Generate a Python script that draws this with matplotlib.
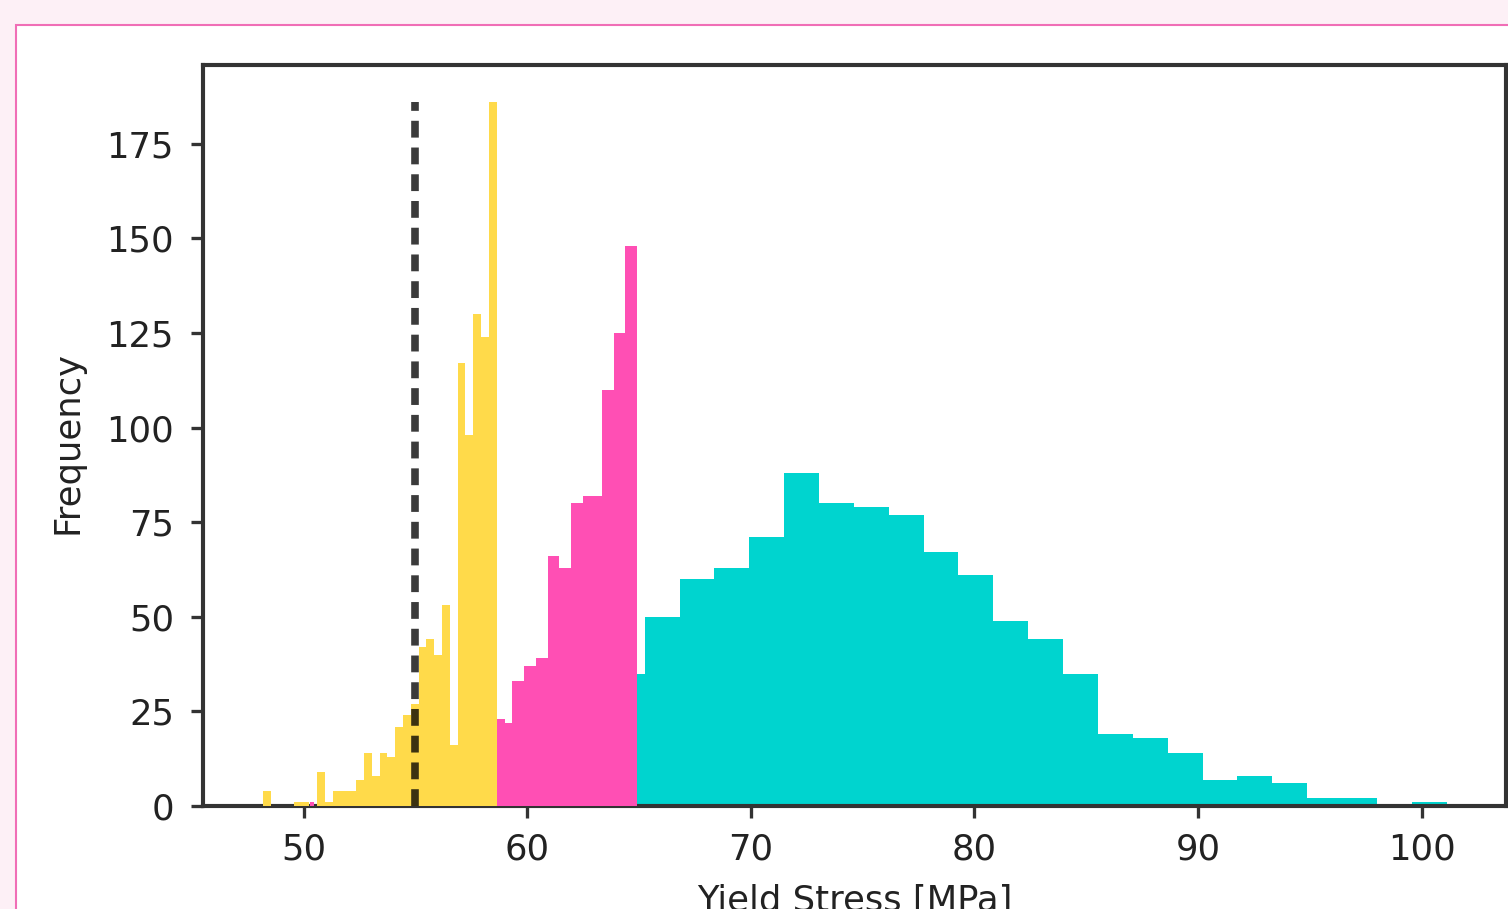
import matplotlib
matplotlib.use('Agg')
import matplotlib.pyplot as plt
import matplotlib.patches as mpatches
import numpy as np

# Histogram counts (three populations)
yellow_lo, yellow_hi = 48.17, 58.63
yellow_counts = [4, 0, 0, 0, 1, 1, 0, 9, 1, 4, 4, 4, 7, 14, 8, 14, 13, 21, 24, 27,
                 42, 44, 40, 53, 16, 117, 98, 130, 124, 186]

pink_edges = [50.27, 50.45, 58.63, 58.99, 59.30, 59.84, 60.38, 60.91, 61.40,
              61.94, 62.48, 63.33, 63.86, 64.36, 64.89]
pink_counts = [1, 0, 23, 22, 33, 37, 39, 66, 63, 80, 82, 110, 125, 148]

cyan_lo, cyan_hi = 63.69, 101.12
cyan_counts = [35, 50, 60, 63, 71, 88, 80, 79, 77, 67, 61, 49, 44, 35, 19, 18,
               14, 7, 8, 6, 2, 2, 0, 1]

threshold = 55.0

S = 2.376  # size scale (source rendered ~3.3 px per pt)
text_col = '#222222'
plt.rcParams.update({
    'font.family': 'DejaVu Sans',
    'font.size': 25.5,
    'axes.edgecolor': '#333333',
    'axes.linewidth': 1.25 * S,
    'xtick.major.size': 3.5 * S,
    'ytick.major.size': 3.5 * S,
    'xtick.major.width': 1.0 * S,
    'ytick.major.width': 1.0 * S,
    'xtick.major.pad': 10.5,
    'ytick.major.pad': 12.5,
    'xtick.color': '#333333',
    'ytick.color': '#333333',
    'xtick.labelcolor': text_col,
    'ytick.labelcolor': text_col,
    'axes.labelcolor': text_col,
})

W, H = 1508, 909
fig = plt.figure(figsize=(W / 100, H / 100), dpi=100, facecolor='#fdf0f6')

# card with pink border behind the chart
card = mpatches.Rectangle((16 / W, -0.2), 1.2, (H - 25) / H + 0.2,
                          transform=fig.transFigure, facecolor='white',
                          edgecolor='#f06eb6', linewidth=1.5, zorder=-1)
fig.patches.append(card)

ax = fig.add_axes([203 / W, (H - 806) / H, (1506 - 203) / W, (806 - 65) / H])
ax.set_facecolor('white')

cyan_edges = np.linspace(cyan_lo, cyan_hi, len(cyan_counts) + 1)
yellow_edges = np.linspace(yellow_lo, yellow_hi, len(yellow_counts) + 1)

ax.stairs(cyan_counts, cyan_edges, fill=True, color='#00d4cf', zorder=2)
ax.stairs(pink_counts, pink_edges, fill=True, color='#ff4fb4', zorder=3)
ax.stairs(yellow_counts, yellow_edges, fill=True, color='#ffda4a', zorder=4)

ax.vlines(threshold, 0, max(yellow_counts), colors='black', alpha=0.77,
          linewidth=5.5, linestyles=[(0, (2.2, 1.3))], zorder=5)

ax.set_xlim(45.5, 103.77)
ax.set_ylim(0, 195.8)
ax.set_xticks([50, 60, 70, 80, 90, 100])
ax.set_yticks([0, 25, 50, 75, 100, 125, 150, 175])

ax.set_xlabel('Yield Stress [MPa]')
ax.set_ylabel('Frequency')
ax.xaxis.set_label_coords(0.5, -0.105)
ax.yaxis.set_label_coords(-0.0913, 0.49)

fig.savefig('out.png', dpi=100, facecolor=fig.get_facecolor())
